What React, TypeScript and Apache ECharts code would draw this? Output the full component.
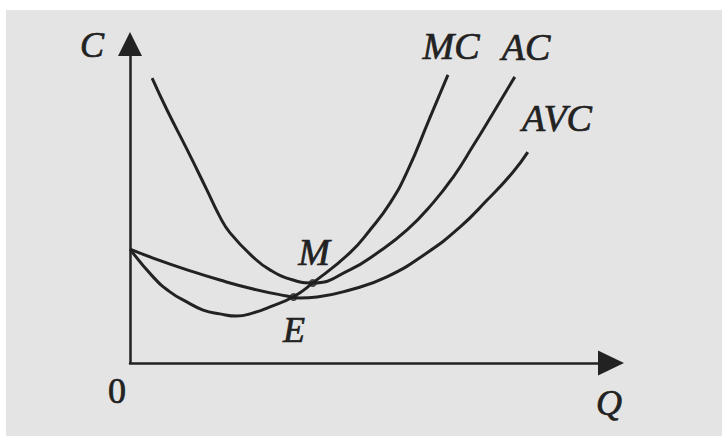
import React, { useEffect, useRef } from "react";
import * as echarts from "echarts";

// Curve readings (Q, C) in abstract units: Q axis 0..100, C axis 0..100
const mcQ = [0, 4.8, 8.3, 11.9, 15.2, 18.7, 22.2, 25.6, 29.1, 33.9, 38.0, 45.7, 49.9, 54.1, 57.6, 62.4, 66.1];
const mcC = [35.7, 27.0, 22.3, 19.1, 16.6, 15.4, 14.7, 15.7, 17.6, 20.7, 25.1, 34.5, 41.7, 50.2, 59.9, 77.1, 90.3];

const acQ = [4.6, 7.7, 11.9, 16.0, 18.7, 20.8, 25.6, 29.1, 33.9, 38.0, 45.7, 51.4, 57.6, 63.0, 67.2, 71.3, 75.5, 80.0];
const acC = [89.3, 79.3, 66.8, 54.2, 45.8, 40.8, 33.2, 29.2, 26.0, 25.1, 29.2, 34.5, 41.7, 50.2, 58.3, 68.0, 78.4, 89.7];

const avcQ = [0, 4.8, 11.9, 18.7, 25.6, 32.6, 35.3, 38.9, 45.7, 53.4, 61.7, 68.6, 74.2, 79.6, 82.7];
const avcC = [35.7, 32.9, 29.2, 26.0, 23.2, 21.0, 20.4, 20.7, 22.9, 27.0, 34.5, 42.6, 51.0, 59.8, 66.1];

const pointNames = ["M", "E"];
const pointQ = [38.0, 34.0];
const pointC = [25.1, 20.7];

const curveNames = ["MC", "AC", "AVC"];
const axisNames = ["C", "Q", "0"];

const zip = (xs: number[], ys: number[]) => xs.map((x, i) => [x, ys[i]]);

export default function App() {
  const ref = useRef<HTMLDivElement>(null);

  useEffect(() => {
    const chart = echarts.init(ref.current as HTMLDivElement, null, { renderer: "svg" });
    const ink = "#222222";
    const fam = '"Liberation Serif", "DejaVu Serif", serif';
    const label = (text: string, x: number, y: number, size: number, italic = true) => ({
      type: "text",
      x,
      y,
      z: 10,
      style: {
        text,
        fill: ink,
        stroke: ink,
        lineWidth: 0.7,
        fontFamily: fam,
        fontSize: size,
        fontStyle: italic ? "italic" : "normal",
        align: "center",
        verticalAlign: "middle",
      },
    });

    const lineSeries = (name: string, data: number[][]) => ({
      name,
      type: "line",
      data,
      smooth: 0.5,
      showSymbol: false,
      symbol: "none",
      lineStyle: { color: ink, width: 3 },
      z: 3,
    });

    chart.setOption({
      animation: false,
      backgroundColor: "transparent",
      grid: { left: 130, right: 111, top: 44, bottom: 73, containLabel: false },
      xAxis: {
        type: "value",
        min: 0,
        max: 100,
        axisLine: {
          show: true,
          onZero: false,
          symbol: ["none", "triangle"],
          symbolSize: [25, 26],
          lineStyle: { color: ink, width: 2.5 },
        },
        axisTick: { show: false },
        axisLabel: { show: false },
        splitLine: { show: false },
      },
      yAxis: {
        type: "value",
        min: 0,
        max: 100,
        axisLine: {
          show: true,
          onZero: false,
          symbol: ["none", "triangle"],
          symbolSize: [24, 24],
          lineStyle: { color: ink, width: 2.5 },
        },
        axisTick: { show: false },
        axisLabel: { show: false },
        splitLine: { show: false },
      },
      series: [
        lineSeries(curveNames[0], zip(mcQ, mcC)),
        lineSeries(curveNames[1], zip(acQ, acC)),
        lineSeries(curveNames[2], zip(avcQ, avcC)),
        {
          name: "points",
          type: "scatter",
          data: zip(pointQ, pointC),
          symbol: "circle",
          symbolSize: 8,
          itemStyle: { color: ink },
          z: 4,
        },
      ],
      graphic: [
        label(axisNames[0], 92, 45, 36),
        label(axisNames[1], 609, 403, 36),
        label(axisNames[2], 117, 391, 36, false),
        label(curveNames[0], 451, 46, 38),
        label(curveNames[1], 526, 47, 38),
        label(curveNames[2], 557, 118, 38),
        label(pointNames[0], 314, 252, 38),
        label(pointNames[1], 294, 330, 36),
      ],
    });

    return () => chart.dispose();
  }, []);

  return (
    <div style={{ position: "fixed", left: 0, top: 0, width: 722, height: 436, background: "#ffffff" }}>
      <div style={{ position: "absolute", left: 6, top: 10, right: 0, bottom: 0, background: "#e4e4e4" }} />
      <div ref={ref} style={{ position: "absolute", left: 0, top: 0, width: 722, height: 436 }} />
    </div>
  );
}
